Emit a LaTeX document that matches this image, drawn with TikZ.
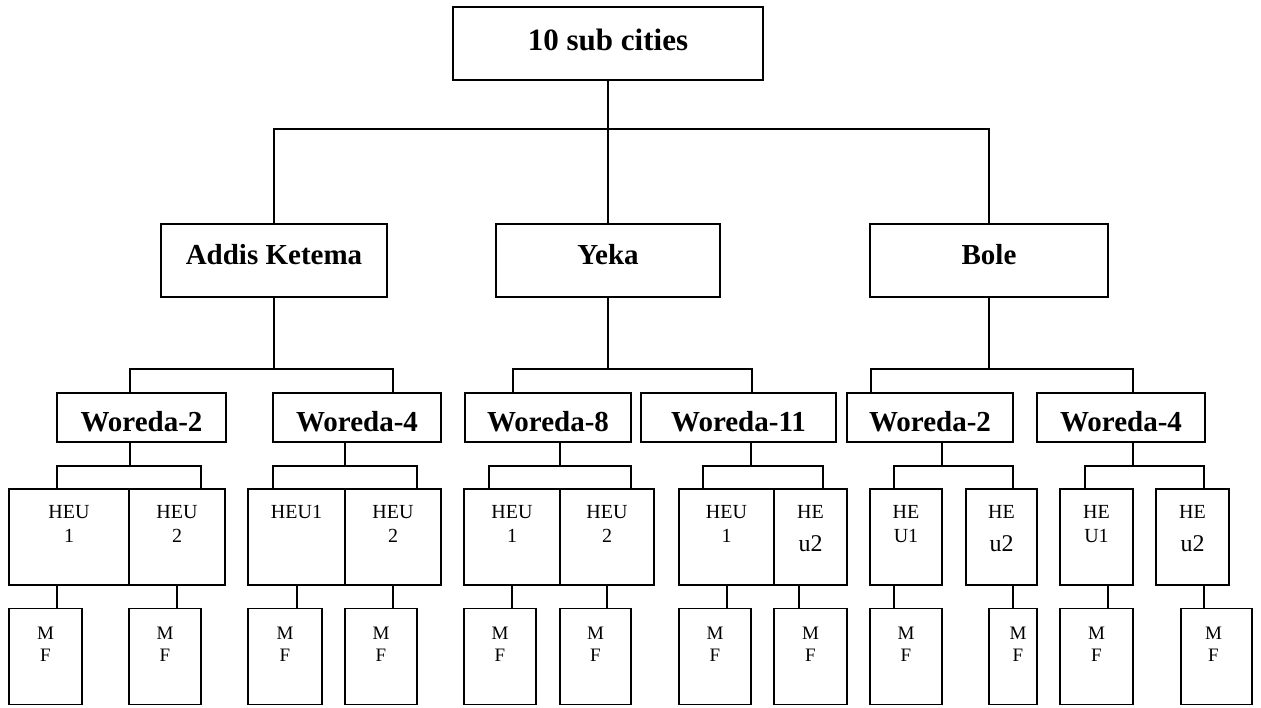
\documentclass[tikz,border=0pt]{standalone}
\usepackage{fontspec}
\setmainfont{Liberation Serif}
\begin{document}
\begin{tikzpicture}[x=1pt,y=-1pt,
 box/.style={draw, line width=1.8pt, rectangle, inner sep=0pt, outer sep=0pt},
 topbox/.style={box, font=\fontsize{31}{31}\selectfont\bfseries, text height=22pt, text depth=8pt},
 subbox/.style={box, minimum height=73pt, font=\fontsize{29}{29}\selectfont\bfseries, text height=20pt, text depth=12pt},
 wbox/.style={box, minimum height=49pt, font=\fontsize{29}{29}\selectfont\bfseries, text height=28pt, text depth=0pt},
 heubox/.style={box, minimum height=96pt},
 mfbox/.style={box, minimum height=96pt},
 hl/.style={anchor=north, inner sep=0pt, align=center, yshift=-16pt, font=\fontsize{20}{24}\selectfont},
 ml/.style={anchor=north, inner sep=0pt, align=center, yshift=-18pt, font=\fontsize{19}{22}\selectfont},
 conn/.style={line width=1.6pt},
]
\useasboundingbox (0,0) rectangle (1261,707);
\newcommand{\bigu}{{\fontsize{24}{24}\selectfont u2}}

% level 0 and 1
\node[topbox, minimum width=310pt, minimum height=73pt] (top) at (608,43.5) {10 sub cities};
\node[subbox, minimum width=226pt] (ak) at (274,260.5) {Addis Ketema};
\node[subbox, minimum width=224pt] (yk) at (608,260.5) {Yeka};
\node[subbox, minimum width=238pt] (bl) at (989,260.5) {Bole};

% level 2
\node[wbox, minimum width=169pt] (wA2) at (141.5,417.5) {Woreda-2};
\node[wbox, minimum width=168pt] (wA4) at (357,417.5) {Woreda-4};
\node[wbox, minimum width=166pt] (wY8) at (548,417.5) {Woreda-8};
\node[wbox, minimum width=195pt] (wY11) at (738.5,417.5) {Woreda-11};
\node[wbox, minimum width=166pt] (wB2) at (930,417.5) {Woreda-2};
\node[wbox, minimum width=168pt] (wB4) at (1121,417.5) {Woreda-4};

% level 3
\node[heubox, minimum width=120pt, label={[hl]north:HEU\\1}] (hA2a) at (69,537) {};
\node[heubox, minimum width=96pt, label={[hl]north:HEU\\2}] (hA2b) at (177,537) {};
\node[heubox, minimum width=97pt, label={[hl]north:HEU1}] (hA4a) at (296.5,537) {};
\node[heubox, minimum width=96pt, label={[hl]north:HEU\\2}] (hA4b) at (393,537) {};
\node[heubox, minimum width=96pt, label={[hl]north:HEU\\1}] (hY8a) at (512,537) {};
\node[heubox, minimum width=94pt, label={[hl]north:HEU\\2}] (hY8b) at (607,537) {};
\node[heubox, minimum width=95pt, label={[hl]north:HEU\\1}] (hY11a) at (726.5,537) {};
\node[heubox, minimum width=73pt, label={[hl]north:HE\\[9pt]\bigu}] (hY11b) at (810.5,537) {};
\node[heubox, minimum width=72pt, label={[hl]north:HE\\U1}] (hB2a) at (906,537) {};
\node[heubox, minimum width=71pt, label={[hl]north:HE\\[9pt]\bigu}] (hB2b) at (1001.5,537) {};
\node[heubox, minimum width=73pt, label={[hl]north:HE\\U1}] (hB4a) at (1096.5,537) {};
\node[heubox, minimum width=73pt, label={[hl]north:HE\\[9pt]\bigu}] (hB4b) at (1192.5,537) {};

% level 4
\node[mfbox, minimum width=73pt, label={[ml]north:M\\F}] (mA2a) at (45.5,656.5) {};
\node[mfbox, minimum width=72pt, label={[ml]north:M\\F}] (mA2b) at (165,656.5) {};
\node[mfbox, minimum width=74pt, label={[ml]north:M\\F}] (mA4a) at (285,656.5) {};
\node[mfbox, minimum width=72pt, label={[ml]north:M\\F}] (mA4b) at (381,656.5) {};
\node[mfbox, minimum width=72pt, label={[ml]north:M\\F}] (mY8a) at (500,656.5) {};
\node[mfbox, minimum width=71pt, label={[ml]north:M\\F}] (mY8b) at (595.5,656.5) {};
\node[mfbox, minimum width=72pt, label={[ml]north:M\\F}] (mY11a) at (715,656.5) {};
\node[mfbox, minimum width=73pt, label={[ml]north:M\\F}] (mY11b) at (810.5,656.5) {};
\node[mfbox, minimum width=72pt, label={[ml]north:M\\F}] (mB2a) at (906,656.5) {};
\node[mfbox, minimum width=48pt, label={[ml,xshift=5pt]north:M\\F}] (mB2b) at (1013,656.5) {};
\node[mfbox, minimum width=73pt, label={[ml]north:M\\F}] (mB4a) at (1096.5,656.5) {};
\node[mfbox, minimum width=71pt, label={[ml,xshift=-3pt]north:M\\F}] (mB4b) at (1216.5,656.5) {};

% connectors level 0 -> 1
\coordinate (j0) at (608,129);
\draw[conn] (top.south) -- (j0);
\draw[conn] (ak.north) -- (ak.north |- j0) -- (bl.north |- j0) -- (bl.north);
\draw[conn] (j0) -- (j0 |- yk.north);

% level 1 -> 2
\coordinate (aL) at (130,369); \coordinate (aR) at (393,369);
\draw[conn] (ak.south) -- (ak.south |- aL);
\draw[conn] (wA2.north -| aL) -- (aL) -- (aR) -- (wA4.north -| aR);
\coordinate (yL) at (513,369); \coordinate (yR) at (752,369);
\draw[conn] (yk.south) -- (yk.south |- yL);
\draw[conn] (wY8.north -| yL) -- (yL) -- (yR) -- (wY11.north -| yR);
\coordinate (bL) at (871,369); \coordinate (bR) at (1133,369);
\draw[conn] (bl.south) -- (bl.south |- bL);
\draw[conn] (wB2.north -| bL) -- (bL) -- (bR) -- (wB4.north -| bR);

% level 2 -> 3
\coordinate (dA2) at (130,466); \coordinate (lA2) at (57,466); \coordinate (rA2) at (201,466);
\draw[conn] (wA2.south -| dA2) -- (dA2);
\draw[conn] (hA2a.north -| lA2) -- (lA2) -- (rA2) -- (hA2b.north -| rA2);
\coordinate (dA4) at (345,466); \coordinate (lA4) at (273,466); \coordinate (rA4) at (417,466);
\draw[conn] (wA4.south -| dA4) -- (dA4);
\draw[conn] (hA4a.north -| lA4) -- (lA4) -- (rA4) -- (hA4b.north -| rA4);
\coordinate (dY8) at (560,466); \coordinate (lY8) at (489,466); \coordinate (rY8) at (631,466);
\draw[conn] (wY8.south -| dY8) -- (dY8);
\draw[conn] (hY8a.north -| lY8) -- (lY8) -- (rY8) -- (hY8b.north -| rY8);
\coordinate (dY11) at (751,466); \coordinate (lY11) at (703,466); \coordinate (rY11) at (823,466);
\draw[conn] (wY11.south -| dY11) -- (dY11);
\draw[conn] (hY11a.north -| lY11) -- (lY11) -- (rY11) -- (hY11b.north -| rY11);
\coordinate (dB2) at (942,466); \coordinate (lB2) at (894,466); \coordinate (rB2) at (1013,466);
\draw[conn] (wB2.south -| dB2) -- (dB2);
\draw[conn] (hB2a.north -| lB2) -- (lB2) -- (rB2) -- (hB2b.north -| rB2);
\coordinate (dB4) at (1133,466); \coordinate (lB4) at (1085,466); \coordinate (rB4) at (1204,466);
\draw[conn] (wB4.south -| dB4) -- (dB4);
\draw[conn] (hB4a.north -| lB4) -- (lB4) -- (rB4) -- (hB4b.north -| rB4);

% level 3 -> 4
\coordinate (vA2a) at (57,597); \draw[conn] (hA2a.south -| vA2a) -- (mA2a.north -| vA2a);
\coordinate (vA2b) at (177,597); \draw[conn] (hA2b.south -| vA2b) -- (mA2b.north -| vA2b);
\coordinate (vA4a) at (297,597); \draw[conn] (hA4a.south -| vA4a) -- (mA4a.north -| vA4a);
\coordinate (vA4b) at (393,597); \draw[conn] (hA4b.south -| vA4b) -- (mA4b.north -| vA4b);
\coordinate (vY8a) at (512,597); \draw[conn] (hY8a.south -| vY8a) -- (mY8a.north -| vY8a);
\coordinate (vY8b) at (607,597); \draw[conn] (hY8b.south -| vY8b) -- (mY8b.north -| vY8b);
\coordinate (vY11a) at (727,597); \draw[conn] (hY11a.south -| vY11a) -- (mY11a.north -| vY11a);
\coordinate (vY11b) at (799,597); \draw[conn] (hY11b.south -| vY11b) -- (mY11b.north -| vY11b);
\coordinate (vB2a) at (894,597); \draw[conn] (hB2a.south -| vB2a) -- (mB2a.north -| vB2a);
\coordinate (vB2b) at (1013,597); \draw[conn] (hB2b.south -| vB2b) -- (mB2b.north -| vB2b);
\coordinate (vB4a) at (1108,597); \draw[conn] (hB4a.south -| vB4a) -- (mB4a.north -| vB4a);
\coordinate (vB4b) at (1204,597); \draw[conn] (hB4b.south -| vB4b) -- (mB4b.north -| vB4b);
\end{tikzpicture}
\end{document}
